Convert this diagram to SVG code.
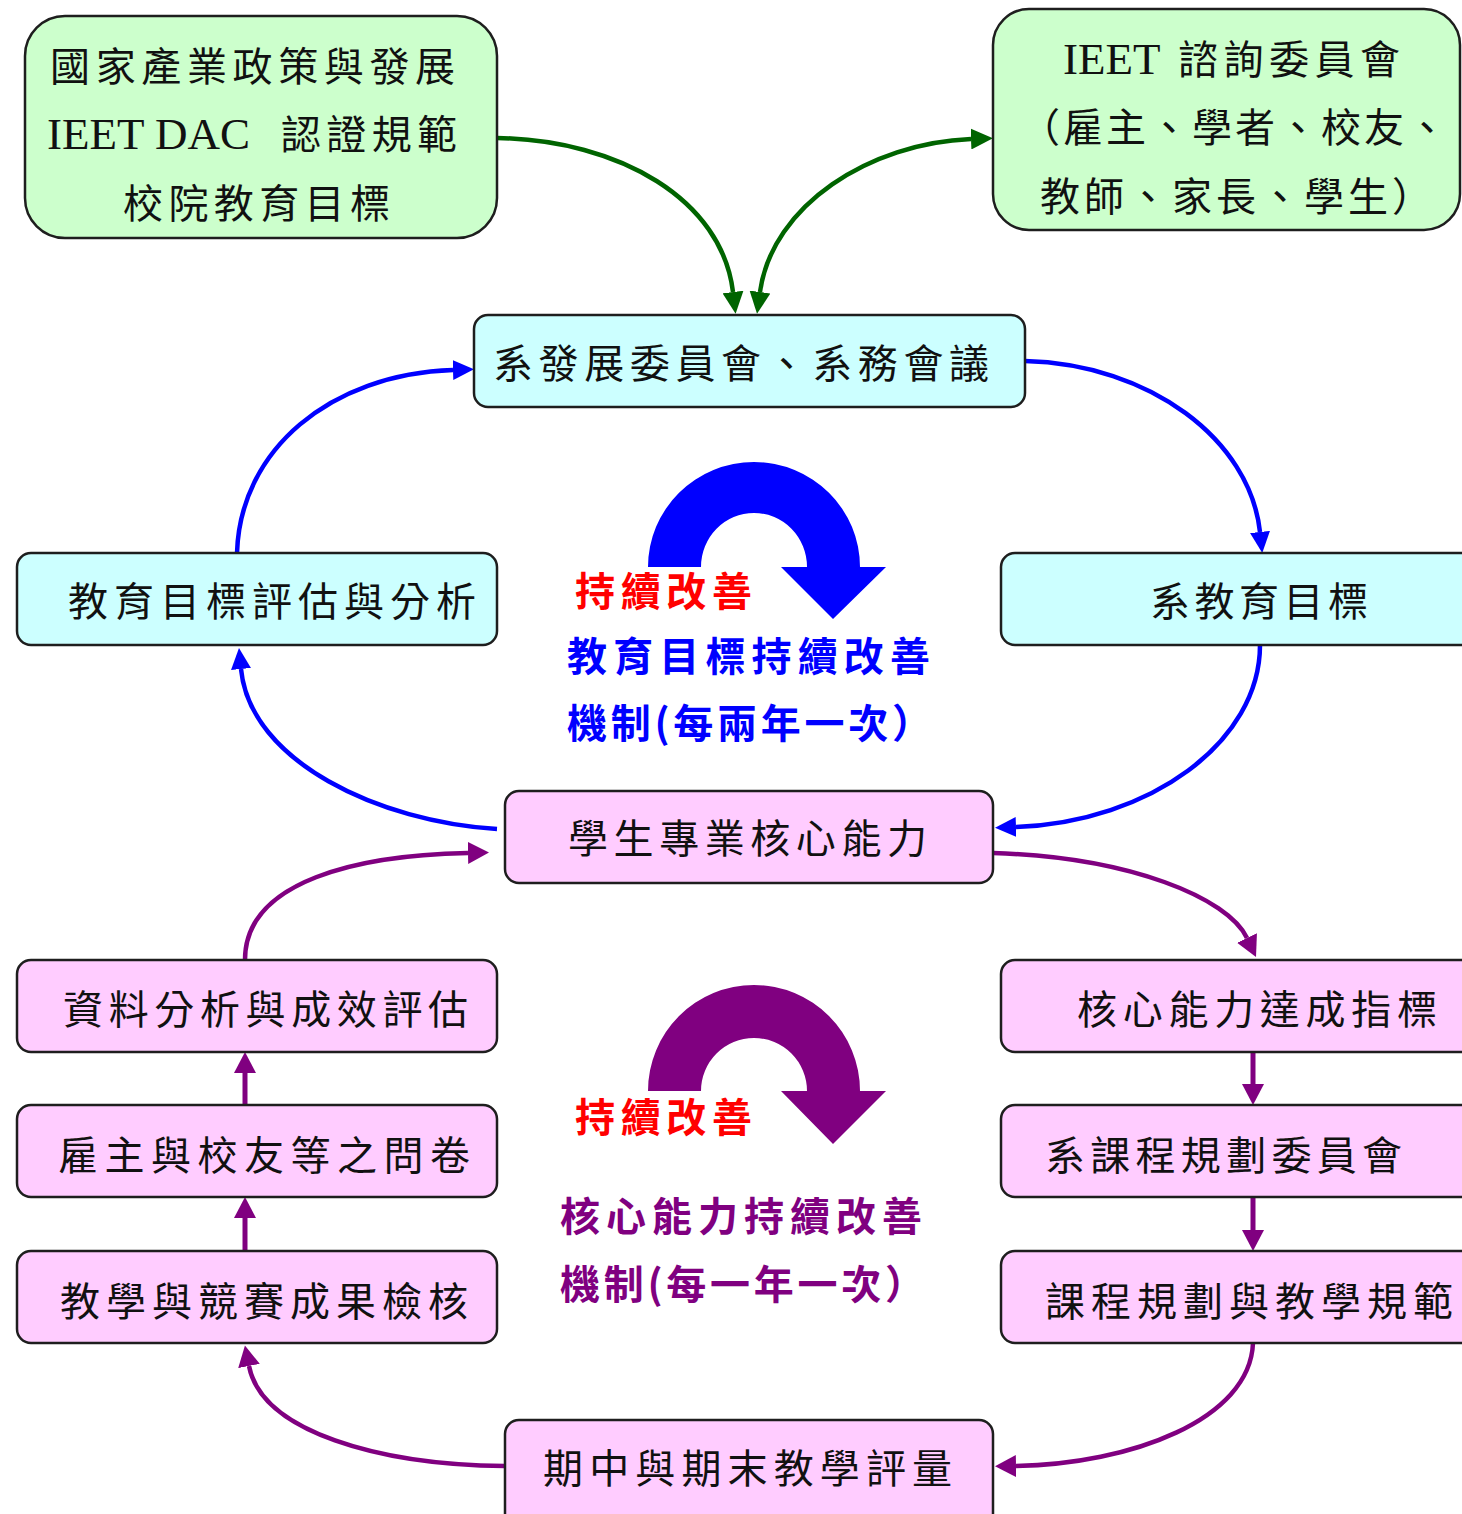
<svg xmlns="http://www.w3.org/2000/svg" width="1462" height="1514" viewBox="0 0 1462 1514">
<style>
.bx{stroke:#1e1e1e;stroke-width:2.5}
.g{fill:#ccffcc}
.c{fill:#ccffff}
.p{fill:#ffccff}
text{font-family:"Liberation Serif","Noto Sans CJK TC",serif;font-size:40px;fill:#111}
.lat{font-size:45px}
.lbl{font-family:"Noto Sans CJK TC","Liberation Serif",sans-serif;font-weight:bold}
.cg{fill:none;stroke:#006400;stroke-width:4.5}
.cb{fill:none;stroke:#0000ff;stroke-width:4.5}
.cp{fill:none;stroke:#800080;stroke-width:4.5}
</style>
<defs>
<marker id="ag" viewBox="0 0 10 10" refX="0" refY="5" markerUnits="userSpaceOnUse" markerWidth="22" markerHeight="21" orient="auto-start-reverse" preserveAspectRatio="none"><path d="M0,0 L10,5 L0,10 z" fill="#006400"/></marker>
<marker id="ab" viewBox="0 0 10 10" refX="0" refY="5" markerUnits="userSpaceOnUse" markerWidth="21" markerHeight="20" orient="auto" preserveAspectRatio="none"><path d="M0,0 L10,5 L0,10 z" fill="#0000ff"/></marker>
<marker id="ap" viewBox="0 0 10 10" refX="0" refY="5" markerUnits="userSpaceOnUse" markerWidth="21" markerHeight="22" orient="auto" preserveAspectRatio="none"><path d="M0,0 L10,5 L0,10 z" fill="#800080"/></marker>
</defs>

<g id="connectors">
<path class="cg" d="M497,138 C620,140 722,200 733,292" marker-end="url(#ag)"/>
<path class="cg" d="M760,292 C772,205 870,143 971,139" marker-start="url(#ag)" marker-end="url(#ag)"/>
<path class="cb" d="M1025,361 C1150,364 1250,440 1260,532" marker-end="url(#ab)"/>
<path class="cb" d="M1260,645 C1260,742 1150,822 1016,827" marker-end="url(#ab)"/>
<path class="cb" d="M497,829 C380,822 250,762 241,669" marker-end="url(#ab)"/>
<path class="cb" d="M237,553 C240,450 330,374 453,370" marker-end="url(#ab)"/>
<path class="cp" d="M993,853 C1130,857 1228,898 1247,938" marker-end="url(#ap)"/>
<path class="cp" style="stroke-width:5" d="M1253,1052 L1253,1084" marker-end="url(#ap)"/>
<path class="cp" style="stroke-width:5" d="M1253,1197 L1253,1230" marker-end="url(#ap)"/>
<path class="cp" d="M1253,1343 C1250,1420 1130,1464 1016,1466" marker-end="url(#ap)"/>
<path class="cp" d="M505,1466 C380,1465 262,1432 249,1366" marker-end="url(#ap)"/>
<path class="cp" style="stroke-width:5" d="M245,1251 L245,1218" marker-end="url(#ap)"/>
<path class="cp" style="stroke-width:5" d="M245,1105 L245,1073" marker-end="url(#ap)"/>
<path class="cp" d="M245,960 C245,880 360,855 468,853" marker-end="url(#ap)"/>
</g>

<g id="cycle-arrows">
<path d="M648,567 A106,105 0 0 1 860,567 L886,567 L833,619 L781,567 L807,567 A53,54 0 0 0 701,567 Z" fill="#0000ff"/>
<path d="M648,1091 A106,106 0 0 1 860,1091 L886,1091 L833,1144 L781,1091 L807,1091 A53,53 0 0 0 701,1091 Z" fill="#800080"/>
</g>

<g id="n-national">
<rect class="bx g" x="25" y="16" width="472" height="222" rx="40"/>
<text x="50" y="81" textLength="405" lengthAdjust="spacing">國家產業政策與發展</text>
<text y="149"><tspan class="lat" x="47">IEET DAC</tspan><tspan x="281" textLength="176" lengthAdjust="spacing">認證規範</tspan></text>
<text x="123" y="218" textLength="267" lengthAdjust="spacing">校院教育目標</text>
</g>

<g id="n-ieet">
<rect class="bx g" x="993" y="9" width="467" height="221" rx="36"/>
<text y="74"><tspan class="lat" x="1063">IEET</tspan><tspan x="1178" textLength="222" lengthAdjust="spacing">諮詢委員會</tspan></text>
<text x="1020" y="142" textLength="427" lengthAdjust="spacing">（雇主、學者、校友、</text>
<text x="1040" y="211" textLength="392" lengthAdjust="spacing">教師、家長、學生）</text>
</g>

<g id="n-dept-committee">
<rect class="bx c" x="474" y="315" width="551" height="92" rx="14"/>
<text x="493" y="378" textLength="496" lengthAdjust="spacing">系發展委員會、系務會議</text>
</g>

<g id="n-goal-eval">
<rect class="bx c" x="17" y="553" width="480" height="92" rx="14"/>
<text x="68" y="616" textLength="408" lengthAdjust="spacing">教育目標評估與分析</text>
</g>

<g id="n-dept-goal">
<rect class="bx c" x="1001" y="553" width="490" height="92" rx="14"/>
<text x="1150" y="616" textLength="218" lengthAdjust="spacing">系教育目標</text>
</g>

<g id="n-core">
<rect class="bx p" x="505" y="791" width="488" height="92" rx="14"/>
<text x="568" y="853" textLength="359" lengthAdjust="spacing">學生專業核心能力</text>
</g>

<g id="n-data">
<rect class="bx p" x="17" y="960" width="480" height="92" rx="14"/>
<text x="63" y="1024" textLength="405" lengthAdjust="spacing">資料分析與成效評估</text>
</g>

<g id="n-survey">
<rect class="bx p" x="17" y="1105" width="480" height="92" rx="14"/>
<text x="58" y="1170" textLength="412" lengthAdjust="spacing">雇主與校友等之問卷</text>
</g>

<g id="n-check">
<rect class="bx p" x="17" y="1251" width="480" height="92" rx="14"/>
<text x="60" y="1316" textLength="408" lengthAdjust="spacing">教學與競賽成果檢核</text>
</g>

<g id="n-indicator">
<rect class="bx p" x="1001" y="960" width="490" height="92" rx="14"/>
<text x="1077" y="1024" textLength="360" lengthAdjust="spacing">核心能力達成指標</text>
</g>

<g id="n-curriculum-committee">
<rect class="bx p" x="1001" y="1105" width="490" height="92" rx="14"/>
<text x="1045" y="1170" textLength="357" lengthAdjust="spacing">系課程規劃委員會</text>
</g>

<g id="n-curriculum">
<rect class="bx p" x="1001" y="1251" width="490" height="92" rx="14"/>
<text x="1045" y="1316" textLength="408" lengthAdjust="spacing">課程規劃與教學規範</text>
</g>

<g id="n-assessment">
<rect class="bx p" x="505" y="1420" width="488" height="112" rx="14"/>
<text x="543" y="1483" textLength="409" lengthAdjust="spacing">期中與期末教學評量</text>
</g>

<g id="labels">
<text class="lbl" x="575" y="606" textLength="177" lengthAdjust="spacing" style="fill:#ff0000">持續改善</text>
<text class="lbl" x="567" y="671" textLength="363" lengthAdjust="spacing" style="fill:#0000ff">教育目標持續改善</text>
<text class="lbl" x="567" y="738" textLength="365" lengthAdjust="spacing" style="fill:#0000ff">機制(每兩年一次）</text>
<text class="lbl" x="575" y="1132" textLength="177" lengthAdjust="spacing" style="fill:#ff0000">持續改善</text>
<text class="lbl" x="560" y="1231" textLength="362" lengthAdjust="spacing" style="fill:#800080">核心能力持續改善</text>
<text class="lbl" x="560" y="1299" textLength="365" lengthAdjust="spacing" style="fill:#800080">機制(每一年一次）</text>
</g>
</svg>
